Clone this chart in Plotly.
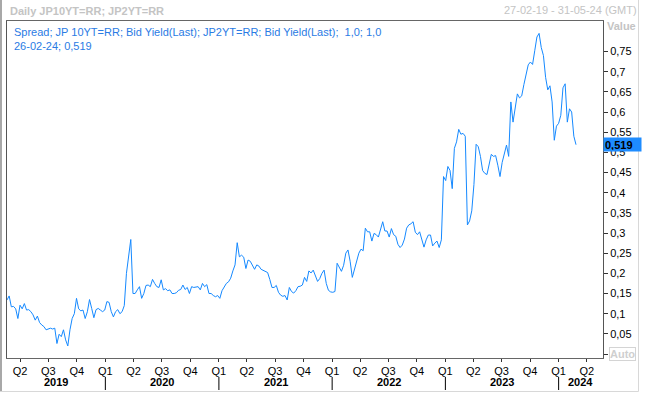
import pandas as pd
import plotly.graph_objects as go

# ---- data (weekly readings of the spread, last point 26-02-24) ----
end_date = "2024-02-26"
spread = [
    0.134, 0.144, 0.117, 0.118, 0.112, 0.088, 0.121, 0.112, 0.125, 0.109,
    0.110, 0.105, 0.097, 0.084, 0.094, 0.078, 0.072, 0.068, 0.060, 0.062,
    0.064, 0.062, 0.064, 0.026, 0.049, 0.043, 0.060, 0.035, 0.020, 0.060,
    0.088, 0.100, 0.138, 0.112, 0.107, 0.109, 0.088, 0.105, 0.135, 0.113,
    0.090, 0.110, 0.113, 0.109, 0.105, 0.109, 0.130, 0.128, 0.105, 0.092,
    0.105, 0.110, 0.100, 0.105, 0.120, 0.200, 0.240, 0.284, 0.150, 0.150,
    0.159, 0.167, 0.138, 0.150, 0.170, 0.171, 0.167, 0.185, 0.175, 0.167,
    0.165, 0.184, 0.159, 0.162, 0.157, 0.159, 0.150, 0.150, 0.152, 0.158,
    0.160, 0.171, 0.160, 0.165, 0.150, 0.167, 0.165, 0.166, 0.167, 0.159,
    0.175, 0.167, 0.172, 0.150, 0.150, 0.145, 0.142, 0.145, 0.138, 0.157,
    0.167, 0.175, 0.179, 0.188, 0.206, 0.221, 0.276, 0.241, 0.245, 0.240,
    0.212, 0.233, 0.230, 0.218, 0.210, 0.221, 0.218, 0.210, 0.208, 0.204,
    0.202, 0.185, 0.165, 0.165, 0.170, 0.153, 0.146, 0.143, 0.145, 0.134,
    0.165, 0.155, 0.151, 0.157, 0.167, 0.168, 0.171, 0.190, 0.180, 0.206,
    0.201, 0.208, 0.194, 0.180, 0.187, 0.200, 0.208, 0.175, 0.158, 0.154,
    0.153, 0.155, 0.225, 0.216, 0.205, 0.220, 0.250, 0.258, 0.230, 0.190,
    0.212, 0.233, 0.250, 0.260, 0.256, 0.312, 0.303, 0.303, 0.280, 0.299,
    0.296, 0.290, 0.310, 0.328, 0.305, 0.305, 0.290, 0.311, 0.296, 0.292,
    0.272, 0.264, 0.270, 0.285, 0.312, 0.320, 0.323, 0.328, 0.302, 0.296,
    0.303, 0.285, 0.265, 0.283, 0.295, 0.295, 0.268, 0.275, 0.280, 0.264,
    0.283, 0.440, 0.430, 0.465, 0.455, 0.410, 0.510, 0.526, 0.557, 0.545,
    0.547, 0.540, 0.320, 0.330, 0.355, 0.420, 0.520, 0.514, 0.490, 0.455,
    0.448, 0.445, 0.470, 0.495, 0.490, 0.492, 0.468, 0.440, 0.475, 0.500,
    0.518, 0.490, 0.625, 0.575, 0.607, 0.645, 0.635, 0.640, 0.668, 0.690,
    0.717, 0.724, 0.718, 0.752, 0.786, 0.795, 0.760, 0.740, 0.686, 0.655,
    0.665, 0.625, 0.530, 0.565, 0.572, 0.592, 0.660, 0.670, 0.575, 0.608,
    0.600, 0.540, 0.519,
]
dates = pd.date_range(end=end_date, periods=len(spread), freq="7D")

x_range = ["2019-02-18", "2024-05-23"]
y_range = [-0.0099, 0.8257]

quarter_dates = ["2019-04-01", "2019-07-01", "2019-10-01",
                 "2020-01-01", "2020-04-01", "2020-07-01", "2020-10-01",
                 "2021-01-01", "2021-04-01", "2021-07-01", "2021-10-01",
                 "2022-01-01", "2022-04-01", "2022-07-01", "2022-10-01",
                 "2023-01-01", "2023-04-01", "2023-07-01", "2023-10-01",
                 "2024-01-01", "2024-04-01"]
quarter_labels = ["Q2", "Q3", "Q4",
                  "Q1", "Q2", "Q3", "Q4",
                  "Q1", "Q2", "Q3", "Q4",
                  "Q1", "Q2", "Q3", "Q4",
                  "Q1", "Q2", "Q3", "Q4",
                  "Q1", "Q2"]
years = [2019, 2020, 2021, 2022, 2023, 2024]
y_ticks = [0.0, 0.05, 0.1, 0.15, 0.2, 0.25, 0.3, 0.35, 0.4, 0.45,
           0.5, 0.55, 0.6, 0.65, 0.7, 0.75]
y_labels = ["", "0,05", "0,1", "0,15", "0,2", "0,25", "0,3", "0,35", "0,4",
            "0,45", "0,5", "0,55", "0,6", "0,65", "0,7", "0,75"]
last_label = "0,519"

LINE = "#1589ff"
TXT = "#2a7be4"
GREY = "#c4c4c4"
FONT = "Liberation Sans"

fig = go.Figure()
fig.add_trace(go.Scatter(x=dates, y=spread, mode="lines",
                         line=dict(color=LINE, width=1), hoverinfo="skip",
                         showlegend=False))

W, H = 645, 394
ml, mr, mt, mb = 7, 42, 21, 36
pw, ph = W - ml - mr, H - mt - mb

def px(xp):
    return (xp - ml) / pw

def py(yp):
    return (H - mb - yp) / ph

fig.update_layout(
    width=W, height=H,
    margin=dict(l=ml, r=mr, t=mt, b=mb, pad=0),
    paper_bgcolor="white", plot_bgcolor="white",
    font=dict(family=FONT, size=11, color="black"),
    xaxis=dict(type="date", range=x_range, tickvals=quarter_dates,
               ticktext=quarter_labels, ticks="outside", ticklen=3,
               tickcolor="#333", tickfont=dict(size=11, family=FONT),
               showgrid=False, zeroline=False, showline=True,
               linecolor="#666", linewidth=1, mirror=True, fixedrange=True),
    yaxis=dict(side="right", range=y_range, tickvals=y_ticks,
               ticktext=y_labels, ticks="outside", ticklen=4,
               tickcolor="#333", tickfont=dict(size=11, family=FONT),
               showgrid=False, zeroline=False, showline=True,
               linecolor="#555", linewidth=1, mirror=True, fixedrange=True),
)

ann = []
# header texts
ann.append(dict(text="<b>Daily JP10YT=RR; JP2YT=RR</b>", xref="paper",
                yref="paper", x=px(8), y=py(11), xanchor="left",
                yanchor="middle", showarrow=False,
                font=dict(size=11, color=GREY, family=FONT)))
ann.append(dict(text="27-02-19 - 31-05-24 (GMT)", xref="paper", yref="paper",
                x=px(639), y=py(10), xanchor="right", yanchor="middle",
                showarrow=False, font=dict(size=11, color=GREY, family=FONT)))
ann.append(dict(text="<b>Value</b>", xref="paper", yref="paper",
                x=px(638), y=py(26), xanchor="right", yanchor="middle",
                showarrow=False, font=dict(size=11, color=GREY, family=FONT)))
# legend text inside plot
ann.append(dict(text="Spread; JP 10YT=RR; Bid Yield(Last); JP2YT=RR; "
                     "Bid Yield(Last);  1,0; 1,0<br>26-02-24; 0,519",
                xref="paper", yref="paper", x=px(12), y=py(24),
                xanchor="left", yanchor="top", align="left",
                showarrow=False, font=dict(size=11, color=TXT, family=FONT)))
# last value box
ann.append(dict(text="<b>" + last_label + "</b>", xref="paper", yref="y",
                x=1, y=spread[-1], xanchor="left", yanchor="middle",
                showarrow=False, bgcolor="#1e8cff", width=35, height=11,
                borderpad=1, align="left",
                font=dict(size=11, color="black", family=FONT)))
# Auto box at zero tick
ann.append(dict(text="<b>Auto</b>", xref="paper", yref="y", x=px(609),
                y=0, xanchor="left", yanchor="middle", showarrow=False,
                bordercolor="#d4d4d4", borderwidth=1, borderpad=0,
                font=dict(size=11, color="#cfcfcf", family=FONT)))

# year labels, centred on the visible part of each year
r0, r1 = pd.Timestamp(x_range[0]), pd.Timestamp(x_range[1])
shapes = []
for yr in years:
    a = max(pd.Timestamp(f"{yr}-01-01"), r0)
    b = min(pd.Timestamp(f"{yr + 1}-01-01"), r1)
    mid = a + (b - a) / 2
    ann.append(dict(text=f"<b>{yr}</b>", xref="x", yref="paper", x=mid,
                    y=py(382), xanchor="center", yanchor="middle",
                    showarrow=False,
                    font=dict(size=11, color="black", family=FONT)))
    if pd.Timestamp(f"{yr}-01-01") > r0:
        shapes.append(dict(type="line", xref="x", yref="paper",
                           x0=f"{yr}-01-01", x1=f"{yr}-01-01",
                           y0=py(377), y1=py(390),
                           line=dict(color="black", width=1)))

# outer window border
shapes.append(dict(type="line", xref="paper", yref="paper", x0=px(1),
                   x1=px(1), y0=py(0), y1=py(391),
                   line=dict(color="#a8a8a8", width=2)))
shapes.append(dict(type="line", xref="paper", yref="paper", x0=px(0),
                   x1=px(638.5), y0=py(391.5), y1=py(391.5),
                   line=dict(color="#d8d8d8", width=1)))
shapes.append(dict(type="line", xref="paper", yref="paper", x0=px(638.5),
                   x1=px(638.5), y0=py(0), y1=py(391.5),
                   line=dict(color="#d8d8d8", width=1)))

fig.update_layout(annotations=ann, shapes=shapes)
fig.write_html("out.html")
